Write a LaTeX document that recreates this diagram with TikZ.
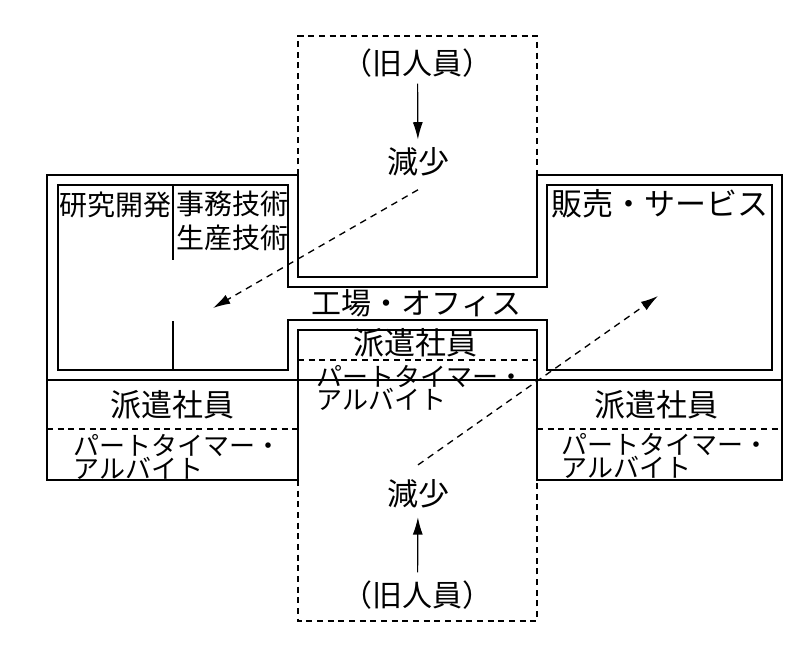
\documentclass[tikz,border=0pt]{standalone}
\usepackage{fontspec}
\setmainfont{Noto Sans CJK JP}
\usetikzlibrary{arrows.meta}

% two-line katakana labels: fixed line distance
\newcommand\kanafont{\fontsize{19.5pt}{17.25pt}\selectfont
  \lineskiplimit=-100pt\relax\lineskip=0pt\relax}

\begin{document}
\begin{tikzpicture}[x=0.75pt,y=-0.75pt,
  wall/.style={line width=1.1pt, line join=miter, line cap=rect},
  border/.style={line width=1pt, dash pattern=on 4.5pt off 3.5pt},
  flow/.style={line width=0.9pt, -{Latex[length=13pt,width=7.5pt]}},
  trend/.style={line width=1pt, dash pattern=on 5pt off 4pt,
    -{Latex[length=13pt,width=7.5pt]}},
  jpa/.style={inner sep=0pt, font=\fontsize{21pt}{25pt}\selectfont,
    text height=18.48pt, text depth=2.52pt},
  jpb/.style={inner sep=0pt, font=\fontsize{22.5pt}{27pt}\selectfont,
    text height=19.8pt, text depth=2.7pt},
  jpc/.style={inner sep=0pt, font=\fontsize{23.25pt}{28pt}\selectfont,
    text height=20.46pt, text depth=2.79pt},
  kana/.style={inner sep=0pt, anchor=base west, align=left, font=\kanafont}]

\useasboundingbox (0,0) rectangle (804,645);

% outer wall of the building plan
\draw[wall] (47,175) -- (298,175) -- (298,277) -- (537,277) -- (537,175)
  -- (782,175) -- (782,380) -- (47,380) -- cycle;
% inner wall
\draw[wall] (58,185) -- (288,185) -- (288,287) -- (547,287) -- (547,185)
  -- (772,185) -- (772,370) -- (547,370) -- (547,320) -- (288,320)
  -- (288,370) -- (58,370) -- cycle;
% partition inside the left wing
\draw[wall] (173,185) -- (173,259);
\draw[wall] (173,322) -- (173,370);

% staff boxes below the wings and in the centre
\draw[wall] (47,380) rectangle (298,480);
\draw[wall] (537,380) rectangle (782,480);
\draw[wall] (298,480) -- (298,330) -- (537,330) -- (537,480);
\draw[border] (47,429) -- (298,429);
\draw[border] (537,429) -- (782,429);
\draw[border] (298,360) -- (537,360);

% dashed zones of former staff, above and below
\draw[border] (298,175) -- (298,36) -- (537,36) -- (537,175);
\draw[border] (298,480) -- (298,621) -- (537,621) -- (537,480);

% labels
\node[jpa, anchor=west] (rd) at (59.5,205) {研究開発};
\node[jpa, anchor=west] (office) at (176,204) {事務技術};
\node[jpa, anchor=west] (prod) at (176,238) {生産技術};
\node[jpc, anchor=west] (sales) at (551,204) {販売・サービス};
\node[jpb] (factory) at (416.5,303) {工場・オフィス};

\node[jpc] (dispM) at (415,343) {派遣社員};
\node[kana] (partM) at (316,409.9) {パートタイマー・\\アルバイト};

\node[jpc] (dispL) at (172,405) {派遣社員};
\node[kana] (partL) at (73,478.9) {パートタイマー・\\アルバイト};

\node[jpc] (dispR) at (656,405) {派遣社員};
\node[kana] (partR) at (561,477.9) {パートタイマー・\\アルバイト};

\node[jpb] (oldT) at (417.5,63) {（旧人員）};
\node[jpc] (decT) at (418,162) {減少};
\node[jpc] (decB) at (418,494) {減少};
\node[jpb] (oldB) at (417.5,595) {（旧人員）};

% arrows
\draw[flow, shorten <=4pt, shorten >=5pt] (oldT) -- (decT);
\draw[flow, shorten <=5.6pt, shorten >=5.6pt] (oldB) -- (decB);

\coordinate (toLeft) at (213,308);
\coordinate (toRight) at (658,296);
\draw[trend] ([yshift=-9pt]decT.south) -- (toLeft);
\draw[trend] ([yshift=10pt]decB.north) -- (toRight);
\end{tikzpicture}
\end{document}
